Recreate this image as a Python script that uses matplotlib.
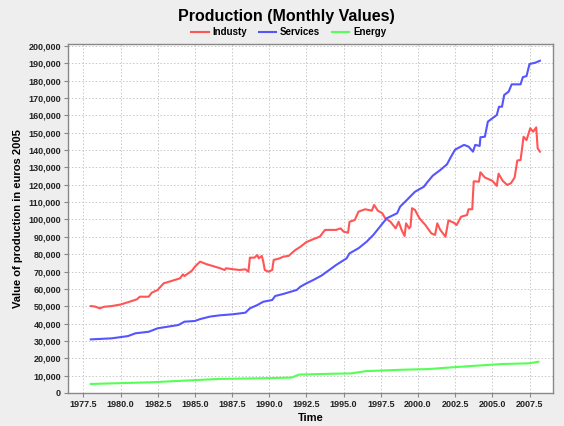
import matplotlib
matplotlib.use('Agg')
import matplotlib.pyplot as plt
from matplotlib.ticker import MultipleLocator, FuncFormatter

plt.rcParams['font.family'] = ['Liberation Sans', 'DejaVu Sans']

# Industry (label kept as in the original: "Industy")
industry_t = [1978.0, 1978.3, 1978.6, 1978.9, 1979.4, 1980.0, 1980.5, 1981.1, 1981.3, 1981.9,
              1982.1, 1982.5, 1982.9, 1983.4, 1984.0, 1984.2, 1984.3, 1984.8, 1985.0, 1985.35,
              1985.8, 1986.2, 1986.7, 1987.0, 1987.1, 1987.6, 1988.0, 1988.4, 1988.6, 1988.7,
              1989.0, 1989.2, 1989.3, 1989.5, 1989.6, 1989.7, 1989.95, 1990.2, 1990.3, 1990.7,
              1990.95, 1991.3, 1991.5, 1991.75, 1992.1, 1992.5, 1993.0, 1993.4, 1993.75, 1994.5,
              1994.8, 1995.0, 1995.3, 1995.4, 1995.75, 1996.0, 1996.45, 1996.9, 1997.05, 1997.3,
              1997.6, 1997.8, 1998.15, 1998.5, 1998.7, 1998.9, 1999.1, 1999.2, 1999.4, 1999.5,
              1999.6, 1999.8, 2000.1, 2000.5, 2000.9, 2001.15, 2001.3, 2001.5, 2001.85, 2002.05,
              2002.4, 2002.6, 2002.9, 2003.3, 2003.4, 2003.65, 2003.75, 2004.1, 2004.2, 2004.5,
              2005.0, 2005.3, 2005.42, 2005.7, 2006.0, 2006.25, 2006.5, 2006.68, 2006.9, 2007.1,
              2007.3, 2007.55, 2007.75, 2007.95, 2008.05, 2008.2]
industry_v = [50100, 49800, 48800, 49700, 50100, 51000, 52300, 54000, 55500, 55500,
              57800, 59400, 63200, 64500, 66100, 68400, 67400, 70500, 72800, 75700,
              74200, 73200, 71900, 70900, 71900, 71300, 70900, 71300, 69900, 78000,
              78000, 79500, 77600, 79000, 75700, 70900, 69900, 70900, 76700, 77600,
              78600, 79000, 80500, 82400, 84300, 87000, 88800, 90100, 94000, 94000,
              94900, 93000, 92400, 98700, 99700, 104500, 105900, 105100, 108400, 105100,
              103600, 100700, 98700, 94900, 98700, 94000, 90500, 97800, 94900, 95900,
              106500, 105500, 100700, 96800, 92000, 91100, 97800, 94000, 90100, 99500,
              98200, 96800, 101600, 102600, 105900, 105900, 122000, 121800, 127200, 124200,
              122300, 119400, 126400, 122300, 119900, 120900, 124200, 134000, 134300, 147700,
              145800, 152600, 150600, 153100, 141000, 139100]

services_t = [1978.0, 1979.4, 1980.5, 1981.0, 1981.9, 1982.2, 1982.5, 1983.9, 1984.3, 1985.0,
              1985.35, 1986.0, 1986.7, 1987.6, 1988.4, 1988.7, 1989.2, 1989.6, 1990.2, 1990.4,
              1990.95, 1991.85, 1992.1, 1992.5, 1993.0, 1993.5, 1994.1, 1994.5, 1995.2, 1995.4,
              1996.0, 1996.55, 1997.0, 1997.45, 1997.9, 1998.6, 1998.8, 1999.25, 1999.8, 2000.4,
              2000.6, 2001.0, 2001.5, 2001.95, 2002.2, 2002.5, 2003.1, 2003.4, 2003.7, 2003.85,
              2004.15, 2004.2, 2004.5, 2004.7, 2005.0, 2005.3, 2005.45, 2005.65, 2005.8, 2006.1,
              2006.3, 2006.9, 2007.05, 2007.3, 2007.5, 2007.9, 2008.2]
services_v = [30900, 31500, 32800, 34400, 35300, 36300, 37300, 39200, 41100, 41500,
              42600, 44000, 44800, 45400, 46300, 48800, 50700, 52600, 53600, 55900,
              57100, 59400, 61300, 63200, 65300, 67600, 71300, 73800, 77600, 80500,
              83400, 87200, 91100, 95900, 100700, 103600, 107400, 111200, 116000, 118900,
              121200, 125300, 128500, 131800, 135800, 140300, 143000, 142000, 139100, 143000,
              142400, 147400, 147700, 156400, 158300, 160200, 165000, 165000, 171800, 173700,
              177900, 177900, 182000, 182700, 189600, 190400, 191500]

energy_t = [1978.0, 1982.1, 1986.6, 1990.2, 1991.5, 1992.0, 1994.25, 1995.5, 1996.5, 1998.9,
            2000.7, 2002.3, 2003.85, 2005.65, 2007.45, 2008.1]
energy_v = [5200, 6200, 8100, 8600, 8900, 10600, 11100, 11300, 12600, 13400,
            13800, 14800, 15700, 16700, 17100, 18000]

fig = plt.figure(figsize=(5.64, 4.26), dpi=100, facecolor='#EEEEEE')
ax = fig.add_axes([68/564, 33/426, 485/564, 349/426])
ax.set_facecolor('white')

ax.plot(industry_t, industry_v, color='#FF5555', lw=1.5, label='Industy')
ax.plot(services_t, services_v, color='#5555FF', lw=1.5, label='Services')
ax.plot(energy_t, energy_v, color='#55FF55', lw=1.5, label='Energy')

ax.set_xlim(1976.47, 2009.08)
ax.set_ylim(0, 201150)
ax.xaxis.set_major_locator(MultipleLocator(2.5))
ax.yaxis.set_major_locator(MultipleLocator(10000))
ax.xaxis.set_major_formatter(FuncFormatter(lambda v, p: '%.1f' % v))
ax.yaxis.set_major_formatter(FuncFormatter(lambda v, p: '{:,.0f}'.format(v)))

ax.grid(True, color='#C8C8C8', linestyle=(0, (1.5, 2)), lw=0.7)
for s in ax.spines.values():
    s.set_color('#888888')
    s.set_linewidth(1.0)
ax.tick_params(length=3, width=0.8, color='#888888', labelcolor='#222222', labelsize=6.5, pad=2)
for lbl in ax.get_xticklabels() + ax.get_yticklabels():
    lbl.set_fontweight('bold')

ax.set_xlabel('Time', fontsize=8, fontweight='bold', labelpad=3)
ax.set_ylabel('Value of production in euros 2005', fontsize=8, fontweight='bold', labelpad=4)

fig.text(0.507, 0.961, 'Production (Monthly Values)', ha='center', va='center',
         fontsize=11.5, fontweight='bold')
leg = fig.legend(loc='center', bbox_to_anchor=(0.512, 0.925), ncol=3, frameon=False,
                 prop={'size': 7, 'weight': 'bold'}, handlelength=1.8, handletextpad=0.4,
                 columnspacing=1.2, borderpad=0)

plt.savefig('out.png', dpi=100, facecolor=fig.get_facecolor())
